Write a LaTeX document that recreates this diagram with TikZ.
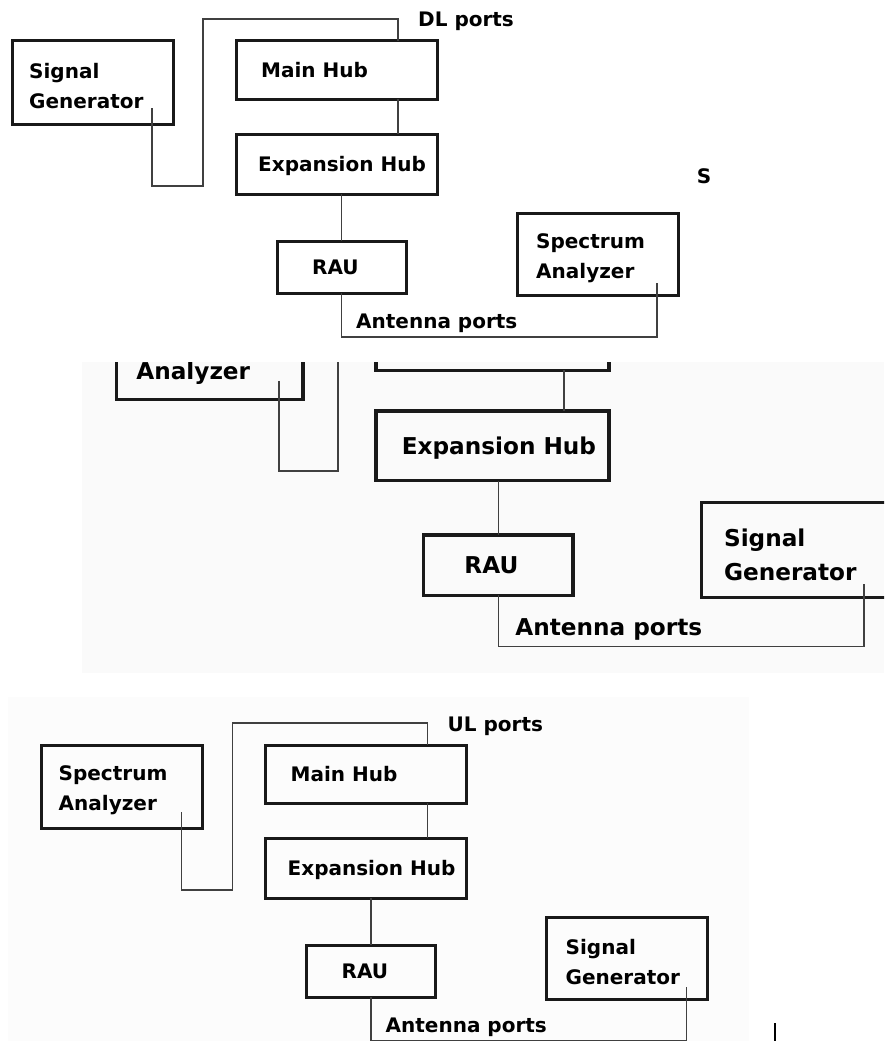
\documentclass[tikz,border=0pt]{standalone}
\usepackage{fontspec}
\setmainfont{DejaVu Sans}

% one test set-up, drawn in the coordinates of the top panel
% #1 left instrument, #2 right instrument, #3 port label, #4 main hub text
\newcommand{\testrig}[4]{%
    \coordinate (pt) at (398,19);
    \node[blk, minimum width=161, minimum height=83, label={[txt,xshift=17,yshift=-4]west:#1}] (L) at (12,41) {};
    \node[blk, minimum width=201, minimum height=58, label={[txt,xshift=25]west:#4}] (MH) at (236,41) {};
    \node[blk, minimum width=201, minimum height=60, label={[txt,xshift=22,yshift=-2]west:Expansion Hub}] (EH) at (236,134) {};
    \node[blk, minimum width=129, minimum height=52, label={[txt,xshift=35]west:RAU}] (R) at (277,241) {};
    \node[blk, minimum width=161, minimum height=82, label={[txt,xshift=19,yshift=-4]west:#2}] (Rb) at (517,213) {};
    \node[txt, anchor=base west] (pl) at (418,27) {#3};
    \node[txt, anchor=base west] (al) at (356,328) {Antenna ports};
    \draw[wire] ([xshift=-21,yshift=16]L.south east) |- (203,186) |- (pt) -- (pt |- MH.north);
    \draw[wire] (pt |- MH.south) -- (pt |- EH.north);
    \draw[wire] (R.north) -- (R.north |- EH.south);
    \draw[wire] (R.south) -- ++(0,44) -| ([xshift=-21,yshift=12]Rb.south east);
}

\begin{document}
\begin{tikzpicture}[x=1pt, y=-1pt,
    blk/.style={draw=black!90, line width=3pt, anchor=north west, inner sep=0pt, outer sep=0pt},
    txt/.style={inner sep=0pt, anchor=west, align=left, font=\bfseries\fontsize{20}{30}\selectfont},
    wire/.style={draw=black!75, line width=1.4pt}]
    \useasboundingbox (0,0) rectangle (884,1041);

    % downlink
    \begin{scope}[name prefix=dl-]
        \testrig{Signal\\Generator}{Spectrum\\Analyzer}{DL ports}{Main Hub}
    \end{scope}
    \node[txt, anchor=center] (s) at (704,176) {S};

    % uplink, enlarged and cut
    \begin{scope}
        \clip (82,362) rectangle (884,673);
        \fill[black!2] (82,362) rectangle (884,673);
        \begin{scope}[shift={(102.5,255.7)}, scale=1.159, transform shape, name prefix=z-,
            blk/.append style={line width=3.4pt}, wire/.append style={line width=1.6pt}]
            \testrig{\vphantom{Spectrum}\\Analyzer}{Signal\\Generator}{}{}
        \end{scope}
    \end{scope}

    % uplink
    \fill[black!1] (8,697) rectangle (749,1041);
    \begin{scope}[shift={(29.5,704)}, name prefix=ul-]
        \testrig{Spectrum\\Analyzer}{Signal\\Generator}{UL ports}{Main Hub}
    \end{scope}
    \draw[line width=1.3pt] (775,1023) -- (775,1041);
\end{tikzpicture}
\end{document}
